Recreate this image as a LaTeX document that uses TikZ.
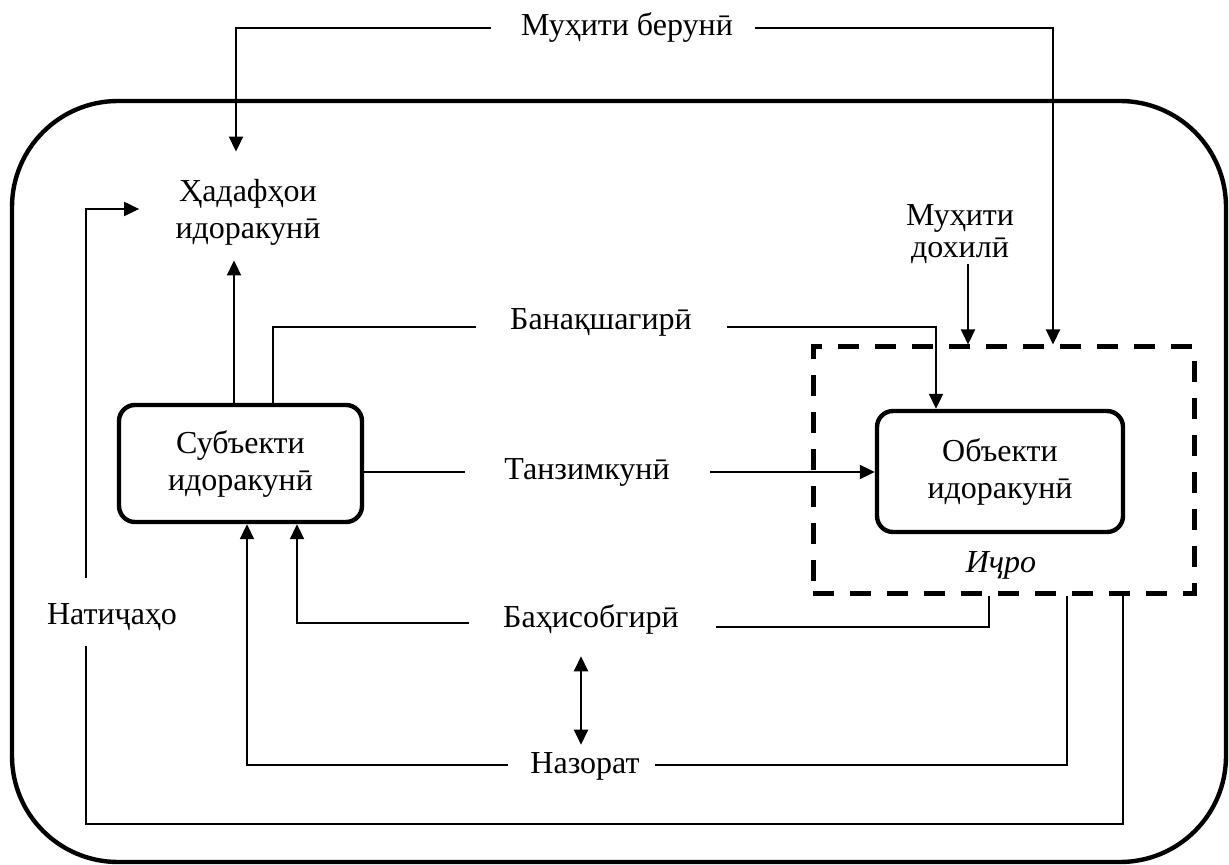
\documentclass[tikz,border=0pt]{standalone}
\usepackage{fontspec}
\setmainfont{Liberation Serif}
\usetikzlibrary{arrows.meta,calc}
\begin{document}
\begin{tikzpicture}[x=0.5pt,y=-0.5pt,
  lbl/.style={inner sep=0pt,font=\fontsize{16}{18.5}\selectfont,align=center},
  conn/.style={line width=1pt},
  arr/.style={conn,-{Triangle[length=7.5pt,width=7pt]}},
  dbl/.style={conn,{Triangle[length=7.5pt,width=7pt]}-{Triangle[length=7.5pt,width=7pt]}},
  box/.style={lbl,draw,line width=2.2pt,rounded corners=8pt,minimum width=121.5pt,minimum height=58.5pt},
  frame/.style={draw,line width=2.2pt,rounded corners=53pt},
  zone/.style={draw,line width=2.5pt,dash pattern=on 10.5pt off 8pt,minimum width=190.5pt,minimum height=123pt,inner sep=0pt},
]
\useasboundingbox (0,0) rectangle (1229,865);
% outer frame
\draw[frame] (12,101) rectangle (1226,862);

% texts and boxes
\node[lbl] (ext) at (627,28) {Муҳити берунӣ};
\node[lbl] (goal) at (248,212) {Ҳадафҳои\\идоракунӣ};
\node[lbl] (inner) at (960,234) {Муҳити\\[-2.5pt]дохилӣ};
\node[lbl] (plan) at (601,322) {Банақшагирӣ};
\node[box] (subj) at (240.5,463.5) {Субъекти\\идоракунӣ};
\node[lbl] (tanz) at (587,472) {Танзимкунӣ};
\node[zone] (exec) at (1003.5,470) {};
\node[box,minimum width=123pt,minimum height=60.5pt] (obj) at (1000,471.5) {Объекти\\идоракунӣ};
\node[lbl,font=\fontsize{16}{18.5}\selectfont\itshape] (ichro) at (1001,565) {Иҷро};
\node[lbl] (bah) at (591,619) {Баҳисобгирӣ};
\node[lbl] (naz) at (585,766) {Назорат};
\node[lbl] (nat) at (112,617) {Натиҷаҳо};

% helper x positions
\coordinate (xA) at (1053,0);
\coordinate (xB) at (968,0);
\coordinate (xC) at (234,0);
\coordinate (xD) at (273,0);
\coordinate (xE) at (936,0);
\coordinate (xF) at (989,0);
\coordinate (xG) at (297,0);
\coordinate (xH) at (1067,0);
\coordinate (xI) at (247,0);
\coordinate (xJ) at (1123,0);
\coordinate (resCorner) at (86,824);

% external environment
\draw[arr] ($(ext.west)+(-30,0)$) -| ($(goal.north)+(-12,-27)$);
\draw[arr] ($(ext.east)+(22,0)$) -| (exec.north -| xA);
% internal environment
\draw[arr] (inner.south -| xB) -- (exec.north -| xB);
% subject -> goals
\draw[arr] (subj.north -| xC) -- ($(goal.south -| xC)+(0,15)$);
% planning
\draw[conn] (subj.north -| xD) |- ($(plan.west)+(-34,5)$);
\draw[arr] ($(plan.east)+(35,5)$) -| (obj.north -| xE);
% regulation
\draw[conn] (subj.east |- tanz) -- ($(tanz.west)+(-39,0)$);
\draw[arr] ($(tanz.east)+(40,0)$) -- (obj.west |- tanz);
% accounting
\draw[conn] (exec.south -| xF) |- ($(bah.east)+(37,8)$);
\draw[arr] ($(bah.west)+(-34,4)$) -| (subj.south -| xG);
% control
\draw[conn] (exec.south -| xH) |- ($(naz.east)+(15,-1)$);
\draw[arr] ($(naz.west)+(-22,-1)$) -| (subj.south -| xI);
% results
\draw[conn] (exec.south -| xJ) |- (resCorner) -- ($(nat.south)+(-26,15)$);
\draw[arr] ($(nat.north)+(-26,-25)$) |- ($(goal.west)+(-36,-3)$);
% accounting <-> control
\draw[dbl] ($(bah.south)+(-10,22)$) -- ($(naz.north)+(-4,-7)$);
\end{tikzpicture}
\end{document}
